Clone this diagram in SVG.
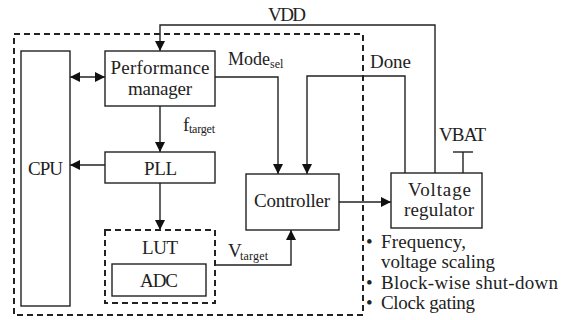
<svg xmlns="http://www.w3.org/2000/svg" width="564" height="320" viewBox="0 0 564 320">
<defs>
<style>
text{font-family:"Liberation Serif","Times New Roman",serif;font-size:19px;fill:#222}
.sub{font-size:12px}
.box{fill:#fff;stroke:#222;stroke-width:1.4}
.dash{fill:none;stroke:#222;stroke-width:2;stroke-dasharray:6 4}
.ln{fill:none;stroke:#222;stroke-width:1.4}
.c{text-anchor:middle}
</style>
<marker id="ah" viewBox="0 0 10 10" refX="10" refY="5" markerWidth="10" markerHeight="10" markerUnits="userSpaceOnUse" orient="auto-start-reverse">
<path d="M0,0 L10,5 L0,10 z" fill="#111"/>
</marker>
</defs>
<rect width="564" height="320" fill="#fff"/>
<g id="outer"><rect class="dash" x="14" y="34" width="349" height="281"/></g>
<g id="connectors">
<polyline class="ln" points="435,173 435,25 160,25 160,51" marker-end="url(#ah)"/>
<line class="ln" x1="70" y1="77" x2="105" y2="77" marker-start="url(#ah)" marker-end="url(#ah)"/>
<line class="ln" x1="160" y1="106" x2="160" y2="152" marker-end="url(#ah)"/>
<line class="ln" x1="105" y1="165" x2="70" y2="165" marker-end="url(#ah)"/>
<line class="ln" x1="160" y1="183" x2="160" y2="230" marker-end="url(#ah)"/>
<polyline class="ln" points="215,77 278,77 278,174" marker-end="url(#ah)"/>
<polyline class="ln" points="405,173 405,76 307,76 307,174" marker-end="url(#ah)"/>
<line class="ln" x1="339" y1="202" x2="391" y2="202" marker-end="url(#ah)"/>
<polyline class="ln" points="216,265 291,265 291,230" marker-end="url(#ah)"/>
<line class="ln" x1="463" y1="152" x2="463" y2="173"/>
<line class="ln" x1="453" y1="152" x2="473" y2="152"/>
</g>
<g id="cpu"><rect class="box" x="21" y="51" width="49" height="255"/><text class="c" x="45.5" y="175" textLength="35">CPU</text></g>
<g id="pm"><rect class="box" x="105" y="51" width="110" height="55"/>
<text class="c" x="160" y="74" textLength="99">Performance</text>
<text class="c" x="160" y="95" textLength="64">manager</text></g>
<g id="pll"><rect class="box" x="105" y="152" width="110" height="31"/><text class="c" x="160.5" y="175" textLength="33">PLL</text></g>
<g id="lut"><rect class="dash" x="105" y="230" width="110" height="73"/><text class="c" x="160" y="254" textLength="36">LUT</text></g>
<g id="adc"><rect class="box" x="112" y="264" width="94" height="32"/><text class="c" x="159" y="287" textLength="38">ADC</text></g>
<g id="controller"><rect class="box" x="246" y="174" width="93" height="56"/><text class="c" x="292" y="207" textLength="76">Controller</text></g>
<g id="vr"><rect class="box" x="391" y="173" width="91" height="55"/>
<text class="c" x="439.5" y="196" textLength="63">Voltage</text>
<text class="c" x="439" y="216" textLength="70">regulator</text></g>
<g id="labels">
<text x="268" y="21" textLength="38">VDD</text>
<text x="228" y="65" style="font-size:18px">Mode</text><text class="sub" x="270" y="68">sel</text>
<text x="370" y="68" textLength="41">Done</text>
<text x="439" y="141" textLength="47">VBAT</text>
<text x="183" y="131">f</text><text class="sub" x="189" y="133" textLength="26">target</text>
<text x="228" y="257">V</text><text class="sub" x="240" y="260" textLength="28">target</text>
<text x="366" y="248">•</text><text x="381" y="248" textLength="85">Frequency,</text>
<text x="381" y="268" textLength="114">voltage scaling</text>
<text x="366" y="289">•</text><text x="381" y="289" textLength="177">Block‑wise shut‑down</text>
<text x="366" y="309">•</text><text x="381" y="309" textLength="94">Clock gating</text>
</g>
</svg>
